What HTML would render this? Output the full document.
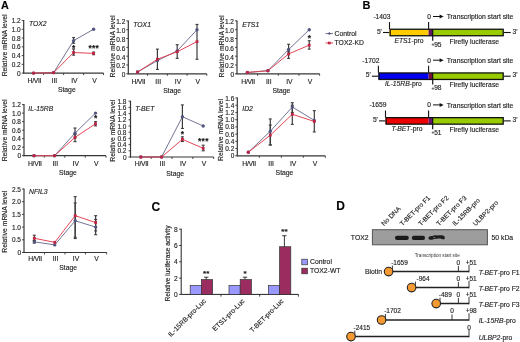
<!DOCTYPE html>
<html><head><meta charset="utf-8"><style>
html,body{margin:0;padding:0;background:#fff;font-family:"Liberation Sans", sans-serif;width:520px;height:342px;overflow:hidden;}
svg{display:block;filter:blur(0.35px);}
text{stroke:#2a2a2a;stroke-width:0.15px;}
</style></head><body>
<svg width="520" height="342" viewBox="0 0 520 342" font-family="Liberation Sans">
<rect width="520" height="342" fill="#fff"/>
<line x1="23.70" y1="20.00" x2="23.70" y2="73.60" stroke="#363636" stroke-width="1.2" />
<line x1="23.20" y1="73.10" x2="103.50" y2="73.10" stroke="#363636" stroke-width="1.2" />
<line x1="21.70" y1="73.10" x2="23.70" y2="73.10" stroke="#363636" stroke-width="0.9" />
<text x="20.70" y="75.60" font-size="6.5" text-anchor="end" fill="#222" >0</text>
<line x1="21.70" y1="64.33" x2="23.70" y2="64.33" stroke="#363636" stroke-width="0.9" />
<text x="20.70" y="66.83" font-size="6.5" text-anchor="end" fill="#222" >0.2</text>
<line x1="21.70" y1="55.57" x2="23.70" y2="55.57" stroke="#363636" stroke-width="0.9" />
<text x="20.70" y="58.07" font-size="6.5" text-anchor="end" fill="#222" >0.4</text>
<line x1="21.70" y1="46.80" x2="23.70" y2="46.80" stroke="#363636" stroke-width="0.9" />
<text x="20.70" y="49.30" font-size="6.5" text-anchor="end" fill="#222" >0.6</text>
<line x1="21.70" y1="38.03" x2="23.70" y2="38.03" stroke="#363636" stroke-width="0.9" />
<text x="20.70" y="40.53" font-size="6.5" text-anchor="end" fill="#222" >0.8</text>
<line x1="21.70" y1="29.27" x2="23.70" y2="29.27" stroke="#363636" stroke-width="0.9" />
<text x="20.70" y="31.77" font-size="6.5" text-anchor="end" fill="#222" >1.0</text>
<line x1="21.70" y1="20.50" x2="23.70" y2="20.50" stroke="#363636" stroke-width="0.9" />
<text x="20.70" y="23.00" font-size="6.5" text-anchor="end" fill="#222" >1.2</text>
<line x1="43.60" y1="73.10" x2="43.60" y2="75.10" stroke="#363636" stroke-width="0.9" />
<line x1="63.60" y1="73.10" x2="63.60" y2="75.10" stroke="#363636" stroke-width="0.9" />
<line x1="83.60" y1="73.10" x2="83.60" y2="75.10" stroke="#363636" stroke-width="0.9" />
<line x1="103.50" y1="73.10" x2="103.50" y2="75.10" stroke="#363636" stroke-width="0.9" />
<text x="34.40" y="83.20" font-size="6.8" text-anchor="middle" fill="#222" letter-spacing="-0.3">H/VII</text>
<text x="54.40" y="83.20" font-size="6.8" text-anchor="middle" fill="#222" >III</text>
<text x="74.40" y="83.20" font-size="6.8" text-anchor="middle" fill="#222" >IV</text>
<text x="94.40" y="83.20" font-size="6.8" text-anchor="middle" fill="#222" >V</text>
<text x="66.80" y="92.00" font-size="6.8" text-anchor="middle" fill="#222" >Stage</text>
<text x="0" y="0" font-size="6.8" text-anchor="middle" fill="#222" transform="translate(7.00,45.40) rotate(-90)">Relative mRNA level</text>
<text x="29.00" y="26.00" font-size="6.8" text-anchor="start" fill="#222" font-style="italic" >TOX2</text>
<polyline points="33.60,73.10 53.60,72.66 73.60,40.66 93.60,29.27" fill="none" stroke="#6c6e8e" stroke-width="0.95"/>
<polyline points="33.60,73.10 53.60,72.66 73.60,52.50 93.60,53.38" fill="none" stroke="#e23c4c" stroke-width="0.95"/>
<line x1="73.60" y1="43.29" x2="73.60" y2="37.59" stroke="#3c3c3c" stroke-width="1.2" />
<line x1="72.10" y1="43.29" x2="75.10" y2="43.29" stroke="#3c3c3c" stroke-width="1.1" />
<line x1="72.10" y1="37.59" x2="75.10" y2="37.59" stroke="#3c3c3c" stroke-width="1.1" />
<line x1="73.60" y1="55.13" x2="73.60" y2="48.99" stroke="#3c3c3c" stroke-width="1.2" />
<line x1="72.10" y1="55.13" x2="75.10" y2="55.13" stroke="#3c3c3c" stroke-width="1.1" />
<line x1="72.10" y1="48.99" x2="75.10" y2="48.99" stroke="#3c3c3c" stroke-width="1.1" />
<line x1="93.60" y1="54.69" x2="93.60" y2="52.06" stroke="#3c3c3c" stroke-width="1.2" />
<line x1="92.10" y1="54.69" x2="95.10" y2="54.69" stroke="#3c3c3c" stroke-width="1.1" />
<line x1="92.10" y1="52.06" x2="95.10" y2="52.06" stroke="#3c3c3c" stroke-width="1.1" />
<circle cx="33.60" cy="73.10" r="1.7" fill="#52557e"/>
<circle cx="53.60" cy="72.66" r="1.7" fill="#52557e"/>
<circle cx="73.60" cy="40.66" r="1.7" fill="#52557e"/>
<circle cx="93.60" cy="29.27" r="1.7" fill="#52557e"/>
<rect x="32.20" y="71.70" width="2.80" height="2.80" fill="#c02444" stroke="none" stroke-width="0" />
<rect x="52.20" y="71.26" width="2.80" height="2.80" fill="#c02444" stroke="none" stroke-width="0" />
<rect x="72.20" y="51.10" width="2.80" height="2.80" fill="#c02444" stroke="none" stroke-width="0" />
<rect x="92.20" y="51.98" width="2.80" height="2.80" fill="#c02444" stroke="none" stroke-width="0" />
<text x="73.80" y="51.38" font-size="8.4" text-anchor="middle" fill="#111" font-weight="bold" letter-spacing="0.3">*</text>
<text x="93.80" y="51.38" font-size="8.4" text-anchor="middle" fill="#111" font-weight="bold" letter-spacing="0.3">***</text>
<line x1="128.30" y1="20.40" x2="128.30" y2="74.30" stroke="#363636" stroke-width="1.2" />
<line x1="127.80" y1="73.80" x2="206.80" y2="73.80" stroke="#363636" stroke-width="1.2" />
<line x1="126.30" y1="73.80" x2="128.30" y2="73.80" stroke="#363636" stroke-width="0.9" />
<text x="125.30" y="77.20" font-size="6.5" text-anchor="end" fill="#222" >0</text>
<line x1="126.30" y1="64.98" x2="128.30" y2="64.98" stroke="#363636" stroke-width="0.9" />
<text x="125.30" y="68.38" font-size="6.5" text-anchor="end" fill="#222" >0.2</text>
<line x1="126.30" y1="56.17" x2="128.30" y2="56.17" stroke="#363636" stroke-width="0.9" />
<text x="125.30" y="59.57" font-size="6.5" text-anchor="end" fill="#222" >0.4</text>
<line x1="126.30" y1="47.35" x2="128.30" y2="47.35" stroke="#363636" stroke-width="0.9" />
<text x="125.30" y="50.75" font-size="6.5" text-anchor="end" fill="#222" >0.6</text>
<line x1="126.30" y1="38.53" x2="128.30" y2="38.53" stroke="#363636" stroke-width="0.9" />
<text x="125.30" y="41.93" font-size="6.5" text-anchor="end" fill="#222" >0.8</text>
<line x1="126.30" y1="29.72" x2="128.30" y2="29.72" stroke="#363636" stroke-width="0.9" />
<text x="125.30" y="33.12" font-size="6.5" text-anchor="end" fill="#222" >1.0</text>
<line x1="126.30" y1="20.90" x2="128.30" y2="20.90" stroke="#363636" stroke-width="0.9" />
<text x="125.30" y="24.30" font-size="6.5" text-anchor="end" fill="#222" >1.2</text>
<line x1="147.50" y1="73.80" x2="147.50" y2="75.80" stroke="#363636" stroke-width="0.9" />
<line x1="167.30" y1="73.80" x2="167.30" y2="75.80" stroke="#363636" stroke-width="0.9" />
<line x1="187.10" y1="73.80" x2="187.10" y2="75.80" stroke="#363636" stroke-width="0.9" />
<line x1="206.80" y1="73.80" x2="206.80" y2="75.80" stroke="#363636" stroke-width="0.9" />
<text x="138.40" y="83.60" font-size="6.8" text-anchor="middle" fill="#222" letter-spacing="-0.3">H/VII</text>
<text x="158.20" y="83.60" font-size="6.8" text-anchor="middle" fill="#222" >III</text>
<text x="178.00" y="83.60" font-size="6.8" text-anchor="middle" fill="#222" >IV</text>
<text x="197.80" y="83.60" font-size="6.8" text-anchor="middle" fill="#222" >V</text>
<text x="172.20" y="93.20" font-size="6.8" text-anchor="middle" fill="#222" >Stage</text>
<text x="0" y="0" font-size="6.8" text-anchor="middle" fill="#222" transform="translate(114.80,46.50) rotate(-90)">Relative mRNA level</text>
<text x="133.30" y="27.20" font-size="6.8" text-anchor="start" fill="#222" font-style="italic" >TOX1</text>
<polyline points="137.60,72.04 157.40,60.57 177.20,50.88 197.00,29.72" fill="none" stroke="#6c6e8e" stroke-width="0.95"/>
<polyline points="137.60,72.04 157.40,59.25 177.20,51.76 197.00,41.62" fill="none" stroke="#e23c4c" stroke-width="0.95"/>
<line x1="157.40" y1="69.39" x2="157.40" y2="49.11" stroke="#3c3c3c" stroke-width="1.2" />
<line x1="155.90" y1="69.39" x2="158.90" y2="69.39" stroke="#3c3c3c" stroke-width="1.1" />
<line x1="155.90" y1="49.11" x2="158.90" y2="49.11" stroke="#3c3c3c" stroke-width="1.1" />
<line x1="177.20" y1="58.37" x2="177.20" y2="44.70" stroke="#3c3c3c" stroke-width="1.2" />
<line x1="175.70" y1="58.37" x2="178.70" y2="58.37" stroke="#3c3c3c" stroke-width="1.1" />
<line x1="175.70" y1="44.70" x2="178.70" y2="44.70" stroke="#3c3c3c" stroke-width="1.1" />
<line x1="197.00" y1="59.25" x2="197.00" y2="24.43" stroke="#3c3c3c" stroke-width="1.2" />
<line x1="195.50" y1="59.25" x2="198.50" y2="59.25" stroke="#3c3c3c" stroke-width="1.1" />
<line x1="195.50" y1="24.43" x2="198.50" y2="24.43" stroke="#3c3c3c" stroke-width="1.1" />
<circle cx="137.60" cy="72.04" r="1.7" fill="#52557e"/>
<circle cx="157.40" cy="60.57" r="1.7" fill="#52557e"/>
<circle cx="177.20" cy="50.88" r="1.7" fill="#52557e"/>
<circle cx="197.00" cy="29.72" r="1.7" fill="#52557e"/>
<rect x="136.20" y="70.64" width="2.80" height="2.80" fill="#c02444" stroke="none" stroke-width="0" />
<rect x="156.00" y="57.85" width="2.80" height="2.80" fill="#c02444" stroke="none" stroke-width="0" />
<rect x="175.80" y="50.36" width="2.80" height="2.80" fill="#c02444" stroke="none" stroke-width="0" />
<rect x="195.60" y="40.22" width="2.80" height="2.80" fill="#c02444" stroke="none" stroke-width="0" />
<line x1="237.00" y1="20.40" x2="237.00" y2="74.30" stroke="#363636" stroke-width="1.2" />
<line x1="236.50" y1="73.80" x2="319.60" y2="73.80" stroke="#363636" stroke-width="1.2" />
<line x1="235.00" y1="73.80" x2="237.00" y2="73.80" stroke="#363636" stroke-width="0.9" />
<text x="234.00" y="77.20" font-size="6.5" text-anchor="end" fill="#222" >0</text>
<line x1="235.00" y1="64.98" x2="237.00" y2="64.98" stroke="#363636" stroke-width="0.9" />
<text x="234.00" y="68.38" font-size="6.5" text-anchor="end" fill="#222" >0.2</text>
<line x1="235.00" y1="56.17" x2="237.00" y2="56.17" stroke="#363636" stroke-width="0.9" />
<text x="234.00" y="59.57" font-size="6.5" text-anchor="end" fill="#222" >0.4</text>
<line x1="235.00" y1="47.35" x2="237.00" y2="47.35" stroke="#363636" stroke-width="0.9" />
<text x="234.00" y="50.75" font-size="6.5" text-anchor="end" fill="#222" >0.6</text>
<line x1="235.00" y1="38.53" x2="237.00" y2="38.53" stroke="#363636" stroke-width="0.9" />
<text x="234.00" y="41.93" font-size="6.5" text-anchor="end" fill="#222" >0.8</text>
<line x1="235.00" y1="29.72" x2="237.00" y2="29.72" stroke="#363636" stroke-width="0.9" />
<text x="234.00" y="33.12" font-size="6.5" text-anchor="end" fill="#222" >1.0</text>
<line x1="235.00" y1="20.90" x2="237.00" y2="20.90" stroke="#363636" stroke-width="0.9" />
<text x="234.00" y="24.30" font-size="6.5" text-anchor="end" fill="#222" >1.2</text>
<line x1="257.62" y1="73.80" x2="257.62" y2="75.80" stroke="#363636" stroke-width="0.9" />
<line x1="278.28" y1="73.80" x2="278.28" y2="75.80" stroke="#363636" stroke-width="0.9" />
<line x1="298.93" y1="73.80" x2="298.93" y2="75.80" stroke="#363636" stroke-width="0.9" />
<line x1="319.60" y1="73.80" x2="319.60" y2="75.80" stroke="#363636" stroke-width="0.9" />
<text x="248.10" y="83.60" font-size="6.8" text-anchor="middle" fill="#222" letter-spacing="-0.3">H/VII</text>
<text x="268.75" y="83.60" font-size="6.8" text-anchor="middle" fill="#222" >III</text>
<text x="289.40" y="83.60" font-size="6.8" text-anchor="middle" fill="#222" >IV</text>
<text x="310.05" y="83.60" font-size="6.8" text-anchor="middle" fill="#222" >V</text>
<text x="281.47" y="93.20" font-size="6.8" text-anchor="middle" fill="#222" >Stage</text>
<text x="0" y="0" font-size="6.8" text-anchor="middle" fill="#222" transform="translate(223.90,46.50) rotate(-90)">Relative mRNA level</text>
<text x="242.20" y="27.40" font-size="6.8" text-anchor="start" fill="#222" font-style="italic" >ETS1</text>
<polyline points="247.30,72.48 267.95,70.71 288.60,49.55 309.25,29.72" fill="none" stroke="#6c6e8e" stroke-width="0.95"/>
<polyline points="247.30,72.48 267.95,70.71 288.60,53.96 309.25,45.15" fill="none" stroke="#e23c4c" stroke-width="0.95"/>
<line x1="288.60" y1="54.40" x2="288.60" y2="44.26" stroke="#3c3c3c" stroke-width="1.2" />
<line x1="287.10" y1="54.40" x2="290.10" y2="54.40" stroke="#3c3c3c" stroke-width="1.1" />
<line x1="287.10" y1="44.26" x2="290.10" y2="44.26" stroke="#3c3c3c" stroke-width="1.1" />
<line x1="288.60" y1="58.37" x2="288.60" y2="51.76" stroke="#3c3c3c" stroke-width="1.2" />
<line x1="287.10" y1="58.37" x2="290.10" y2="58.37" stroke="#3c3c3c" stroke-width="1.1" />
<line x1="287.10" y1="51.76" x2="290.10" y2="51.76" stroke="#3c3c3c" stroke-width="1.1" />
<line x1="309.25" y1="49.11" x2="309.25" y2="40.74" stroke="#3c3c3c" stroke-width="1.2" />
<line x1="307.75" y1="49.11" x2="310.75" y2="49.11" stroke="#3c3c3c" stroke-width="1.1" />
<line x1="307.75" y1="40.74" x2="310.75" y2="40.74" stroke="#3c3c3c" stroke-width="1.1" />
<circle cx="247.30" cy="72.48" r="1.7" fill="#52557e"/>
<circle cx="267.95" cy="70.71" r="1.7" fill="#52557e"/>
<circle cx="288.60" cy="49.55" r="1.7" fill="#52557e"/>
<circle cx="309.25" cy="29.72" r="1.7" fill="#52557e"/>
<rect x="245.90" y="71.08" width="2.80" height="2.80" fill="#c02444" stroke="none" stroke-width="0" />
<rect x="266.55" y="69.31" width="2.80" height="2.80" fill="#c02444" stroke="none" stroke-width="0" />
<rect x="287.20" y="52.56" width="2.80" height="2.80" fill="#c02444" stroke="none" stroke-width="0" />
<rect x="307.85" y="43.75" width="2.80" height="2.80" fill="#c02444" stroke="none" stroke-width="0" />
<text x="309.45" y="40.91" font-size="8.4" text-anchor="middle" fill="#111" font-weight="bold" letter-spacing="0.3">*</text>
<line x1="24.00" y1="104.10" x2="24.00" y2="156.20" stroke="#363636" stroke-width="1.2" />
<line x1="23.50" y1="155.70" x2="106.00" y2="155.70" stroke="#363636" stroke-width="1.2" />
<line x1="22.00" y1="155.70" x2="24.00" y2="155.70" stroke="#363636" stroke-width="0.9" />
<text x="21.00" y="158.20" font-size="6.5" text-anchor="end" fill="#222" >0</text>
<line x1="22.00" y1="147.18" x2="24.00" y2="147.18" stroke="#363636" stroke-width="0.9" />
<text x="21.00" y="149.68" font-size="6.5" text-anchor="end" fill="#222" >0.2</text>
<line x1="22.00" y1="138.67" x2="24.00" y2="138.67" stroke="#363636" stroke-width="0.9" />
<text x="21.00" y="141.17" font-size="6.5" text-anchor="end" fill="#222" >0.4</text>
<line x1="22.00" y1="130.15" x2="24.00" y2="130.15" stroke="#363636" stroke-width="0.9" />
<text x="21.00" y="132.65" font-size="6.5" text-anchor="end" fill="#222" >0.6</text>
<line x1="22.00" y1="121.63" x2="24.00" y2="121.63" stroke="#363636" stroke-width="0.9" />
<text x="21.00" y="124.13" font-size="6.5" text-anchor="end" fill="#222" >0.8</text>
<line x1="22.00" y1="113.12" x2="24.00" y2="113.12" stroke="#363636" stroke-width="0.9" />
<text x="21.00" y="115.62" font-size="6.5" text-anchor="end" fill="#222" >1.0</text>
<line x1="22.00" y1="104.60" x2="24.00" y2="104.60" stroke="#363636" stroke-width="0.9" />
<text x="21.00" y="107.10" font-size="6.5" text-anchor="end" fill="#222" >1.2</text>
<line x1="44.25" y1="155.70" x2="44.25" y2="157.70" stroke="#363636" stroke-width="0.9" />
<line x1="64.75" y1="155.70" x2="64.75" y2="157.70" stroke="#363636" stroke-width="0.9" />
<line x1="85.25" y1="155.70" x2="85.25" y2="157.70" stroke="#363636" stroke-width="0.9" />
<line x1="106.00" y1="155.70" x2="106.00" y2="157.70" stroke="#363636" stroke-width="0.9" />
<text x="34.80" y="166.20" font-size="6.8" text-anchor="middle" fill="#222" letter-spacing="-0.3">H/VII</text>
<text x="55.30" y="166.20" font-size="6.8" text-anchor="middle" fill="#222" >III</text>
<text x="75.80" y="166.20" font-size="6.8" text-anchor="middle" fill="#222" >IV</text>
<text x="96.30" y="166.20" font-size="6.8" text-anchor="middle" fill="#222" >V</text>
<text x="67.95" y="175.00" font-size="6.8" text-anchor="middle" fill="#222" >Stage</text>
<text x="0" y="0" font-size="6.8" text-anchor="middle" fill="#222" transform="translate(7.00,130.40) rotate(-90)">Relative mRNA level</text>
<text x="28.30" y="110.60" font-size="6.8" text-anchor="start" fill="#222" font-style="italic" >IL-15RB</text>
<polyline points="34.00,155.70 54.50,155.70 75.00,133.13 95.50,113.12" fill="none" stroke="#6c6e8e" stroke-width="0.95"/>
<polyline points="34.00,155.70 54.50,155.70 75.00,137.39 95.50,123.76" fill="none" stroke="#e23c4c" stroke-width="0.95"/>
<line x1="75.00" y1="137.81" x2="75.00" y2="128.02" stroke="#3c3c3c" stroke-width="1.2" />
<line x1="73.50" y1="137.81" x2="76.50" y2="137.81" stroke="#3c3c3c" stroke-width="1.1" />
<line x1="73.50" y1="128.02" x2="76.50" y2="128.02" stroke="#3c3c3c" stroke-width="1.1" />
<line x1="75.00" y1="141.65" x2="75.00" y2="134.41" stroke="#3c3c3c" stroke-width="1.2" />
<line x1="73.50" y1="141.65" x2="76.50" y2="141.65" stroke="#3c3c3c" stroke-width="1.1" />
<line x1="73.50" y1="134.41" x2="76.50" y2="134.41" stroke="#3c3c3c" stroke-width="1.1" />
<line x1="95.50" y1="125.89" x2="95.50" y2="121.63" stroke="#3c3c3c" stroke-width="1.2" />
<line x1="94.00" y1="125.89" x2="97.00" y2="125.89" stroke="#3c3c3c" stroke-width="1.1" />
<line x1="94.00" y1="121.63" x2="97.00" y2="121.63" stroke="#3c3c3c" stroke-width="1.1" />
<circle cx="34.00" cy="155.70" r="1.7" fill="#52557e"/>
<circle cx="54.50" cy="155.70" r="1.7" fill="#52557e"/>
<circle cx="75.00" cy="133.13" r="1.7" fill="#52557e"/>
<circle cx="95.50" cy="113.12" r="1.7" fill="#52557e"/>
<rect x="32.60" y="154.30" width="2.80" height="2.80" fill="#c02444" stroke="none" stroke-width="0" />
<rect x="53.10" y="154.30" width="2.80" height="2.80" fill="#c02444" stroke="none" stroke-width="0" />
<rect x="73.60" y="135.99" width="2.80" height="2.80" fill="#c02444" stroke="none" stroke-width="0" />
<rect x="94.10" y="122.36" width="2.80" height="2.80" fill="#c02444" stroke="none" stroke-width="0" />
<text x="95.70" y="121.08" font-size="8.4" text-anchor="middle" fill="#111" font-weight="bold" letter-spacing="0.3">*</text>
<line x1="130.50" y1="100.70" x2="130.50" y2="157.50" stroke="#363636" stroke-width="1.2" />
<line x1="130.00" y1="157.00" x2="213.70" y2="157.00" stroke="#363636" stroke-width="1.2" />
<line x1="128.50" y1="157.00" x2="130.50" y2="157.00" stroke="#363636" stroke-width="0.9" />
<text x="126.50" y="159.50" font-size="6.5" text-anchor="end" fill="#222" >0</text>
<line x1="128.50" y1="150.80" x2="130.50" y2="150.80" stroke="#363636" stroke-width="0.9" />
<text x="126.50" y="153.30" font-size="6.5" text-anchor="end" fill="#222" >0.2</text>
<line x1="128.50" y1="144.60" x2="130.50" y2="144.60" stroke="#363636" stroke-width="0.9" />
<text x="126.50" y="147.10" font-size="6.5" text-anchor="end" fill="#222" >0.4</text>
<line x1="128.50" y1="138.40" x2="130.50" y2="138.40" stroke="#363636" stroke-width="0.9" />
<text x="126.50" y="140.90" font-size="6.5" text-anchor="end" fill="#222" >0.6</text>
<line x1="128.50" y1="132.20" x2="130.50" y2="132.20" stroke="#363636" stroke-width="0.9" />
<text x="126.50" y="134.70" font-size="6.5" text-anchor="end" fill="#222" >0.8</text>
<line x1="128.50" y1="126.00" x2="130.50" y2="126.00" stroke="#363636" stroke-width="0.9" />
<text x="126.50" y="128.50" font-size="6.5" text-anchor="end" fill="#222" >1.0</text>
<line x1="128.50" y1="119.80" x2="130.50" y2="119.80" stroke="#363636" stroke-width="0.9" />
<text x="126.50" y="122.30" font-size="6.5" text-anchor="end" fill="#222" >1.2</text>
<line x1="128.50" y1="113.60" x2="130.50" y2="113.60" stroke="#363636" stroke-width="0.9" />
<text x="126.50" y="116.10" font-size="6.5" text-anchor="end" fill="#222" >1.4</text>
<line x1="128.50" y1="107.40" x2="130.50" y2="107.40" stroke="#363636" stroke-width="0.9" />
<text x="126.50" y="109.90" font-size="6.5" text-anchor="end" fill="#222" >1.6</text>
<line x1="128.50" y1="101.20" x2="130.50" y2="101.20" stroke="#363636" stroke-width="0.9" />
<text x="126.50" y="103.70" font-size="6.5" text-anchor="end" fill="#222" >1.8</text>
<line x1="151.20" y1="157.00" x2="151.20" y2="159.00" stroke="#363636" stroke-width="0.9" />
<line x1="172.00" y1="157.00" x2="172.00" y2="159.00" stroke="#363636" stroke-width="0.9" />
<line x1="192.80" y1="157.00" x2="192.80" y2="159.00" stroke="#363636" stroke-width="0.9" />
<line x1="213.70" y1="157.00" x2="213.70" y2="159.00" stroke="#363636" stroke-width="0.9" />
<text x="141.60" y="166.40" font-size="6.8" text-anchor="middle" fill="#222" letter-spacing="-0.3">H/VII</text>
<text x="162.40" y="166.40" font-size="6.8" text-anchor="middle" fill="#222" >III</text>
<text x="183.20" y="166.40" font-size="6.8" text-anchor="middle" fill="#222" >IV</text>
<text x="204.00" y="166.40" font-size="6.8" text-anchor="middle" fill="#222" >V</text>
<text x="175.20" y="175.60" font-size="6.8" text-anchor="middle" fill="#222" >Stage</text>
<text x="0" y="0" font-size="6.8" text-anchor="middle" fill="#222" transform="translate(115.30,130.80) rotate(-90)">Relative mRNA level</text>
<text x="135.30" y="111.30" font-size="6.8" text-anchor="start" fill="#222" font-style="italic" >T-BET</text>
<polyline points="140.80,157.00 161.60,157.00 182.40,116.70 203.20,126.00" fill="none" stroke="#6c6e8e" stroke-width="0.95"/>
<polyline points="140.80,157.00 161.60,157.00 182.40,139.33 203.20,148.32" fill="none" stroke="#e23c4c" stroke-width="0.95"/>
<line x1="182.40" y1="128.48" x2="182.40" y2="104.92" stroke="#3c3c3c" stroke-width="1.2" />
<line x1="180.90" y1="128.48" x2="183.90" y2="128.48" stroke="#3c3c3c" stroke-width="1.1" />
<line x1="180.90" y1="104.92" x2="183.90" y2="104.92" stroke="#3c3c3c" stroke-width="1.1" />
<line x1="182.40" y1="141.50" x2="182.40" y2="136.85" stroke="#3c3c3c" stroke-width="1.2" />
<line x1="180.90" y1="141.50" x2="183.90" y2="141.50" stroke="#3c3c3c" stroke-width="1.1" />
<line x1="180.90" y1="136.85" x2="183.90" y2="136.85" stroke="#3c3c3c" stroke-width="1.1" />
<line x1="203.20" y1="150.80" x2="203.20" y2="145.22" stroke="#3c3c3c" stroke-width="1.2" />
<line x1="201.70" y1="150.80" x2="204.70" y2="150.80" stroke="#3c3c3c" stroke-width="1.1" />
<line x1="201.70" y1="145.22" x2="204.70" y2="145.22" stroke="#3c3c3c" stroke-width="1.1" />
<circle cx="140.80" cy="157.00" r="1.7" fill="#52557e"/>
<circle cx="161.60" cy="157.00" r="1.7" fill="#52557e"/>
<circle cx="182.40" cy="116.70" r="1.7" fill="#52557e"/>
<circle cx="203.20" cy="126.00" r="1.7" fill="#52557e"/>
<rect x="139.40" y="155.60" width="2.80" height="2.80" fill="#c02444" stroke="none" stroke-width="0" />
<rect x="160.20" y="155.60" width="2.80" height="2.80" fill="#c02444" stroke="none" stroke-width="0" />
<rect x="181.00" y="137.93" width="2.80" height="2.80" fill="#c02444" stroke="none" stroke-width="0" />
<rect x="201.80" y="146.92" width="2.80" height="2.80" fill="#c02444" stroke="none" stroke-width="0" />
<text x="182.60" y="136.52" font-size="8.4" text-anchor="middle" fill="#111" font-weight="bold" letter-spacing="0.3">*</text>
<text x="203.40" y="143.65" font-size="8.4" text-anchor="middle" fill="#111" font-weight="bold" letter-spacing="0.3">***</text>
<line x1="237.30" y1="97.50" x2="237.30" y2="156.30" stroke="#363636" stroke-width="1.2" />
<line x1="236.80" y1="155.80" x2="325.30" y2="155.80" stroke="#363636" stroke-width="1.2" />
<line x1="235.30" y1="155.80" x2="237.30" y2="155.80" stroke="#363636" stroke-width="0.9" />
<text x="234.30" y="158.30" font-size="6.5" text-anchor="end" fill="#222" >0</text>
<line x1="235.30" y1="148.58" x2="237.30" y2="148.58" stroke="#363636" stroke-width="0.9" />
<text x="234.30" y="151.08" font-size="6.5" text-anchor="end" fill="#222" >0.2</text>
<line x1="235.30" y1="141.35" x2="237.30" y2="141.35" stroke="#363636" stroke-width="0.9" />
<text x="234.30" y="143.85" font-size="6.5" text-anchor="end" fill="#222" >0.4</text>
<line x1="235.30" y1="134.12" x2="237.30" y2="134.12" stroke="#363636" stroke-width="0.9" />
<text x="234.30" y="136.62" font-size="6.5" text-anchor="end" fill="#222" >0.6</text>
<line x1="235.30" y1="126.90" x2="237.30" y2="126.90" stroke="#363636" stroke-width="0.9" />
<text x="234.30" y="129.40" font-size="6.5" text-anchor="end" fill="#222" >0.8</text>
<line x1="235.30" y1="119.68" x2="237.30" y2="119.68" stroke="#363636" stroke-width="0.9" />
<text x="234.30" y="122.18" font-size="6.5" text-anchor="end" fill="#222" >1.0</text>
<line x1="235.30" y1="112.45" x2="237.30" y2="112.45" stroke="#363636" stroke-width="0.9" />
<text x="234.30" y="114.95" font-size="6.5" text-anchor="end" fill="#222" >1.2</text>
<line x1="235.30" y1="105.22" x2="237.30" y2="105.22" stroke="#363636" stroke-width="0.9" />
<text x="234.30" y="107.72" font-size="6.5" text-anchor="end" fill="#222" >1.4</text>
<line x1="235.30" y1="98.00" x2="237.30" y2="98.00" stroke="#363636" stroke-width="0.9" />
<text x="234.30" y="100.50" font-size="6.5" text-anchor="end" fill="#222" >1.6</text>
<line x1="259.30" y1="155.80" x2="259.30" y2="157.80" stroke="#363636" stroke-width="0.9" />
<line x1="281.30" y1="155.80" x2="281.30" y2="157.80" stroke="#363636" stroke-width="0.9" />
<line x1="303.30" y1="155.80" x2="303.30" y2="157.80" stroke="#363636" stroke-width="0.9" />
<line x1="325.30" y1="155.80" x2="325.30" y2="157.80" stroke="#363636" stroke-width="0.9" />
<text x="249.10" y="165.80" font-size="6.8" text-anchor="middle" fill="#222" letter-spacing="-0.3">H/VII</text>
<text x="271.10" y="165.80" font-size="6.8" text-anchor="middle" fill="#222" >III</text>
<text x="293.10" y="165.80" font-size="6.8" text-anchor="middle" fill="#222" >IV</text>
<text x="315.10" y="165.80" font-size="6.8" text-anchor="middle" fill="#222" >V</text>
<text x="284.50" y="175.00" font-size="6.8" text-anchor="middle" fill="#222" >Stage</text>
<text x="0" y="0" font-size="6.8" text-anchor="middle" fill="#222" transform="translate(222.90,130.00) rotate(-90)">Relative mRNA level</text>
<text x="242.30" y="110.60" font-size="6.8" text-anchor="start" fill="#222" font-style="italic" >ID2</text>
<polyline points="248.30,152.19 270.30,131.24 292.30,107.03 314.30,120.40" fill="none" stroke="#6c6e8e" stroke-width="0.95"/>
<polyline points="248.30,152.19 270.30,135.21 292.30,114.26 314.30,121.48" fill="none" stroke="#e23c4c" stroke-width="0.95"/>
<line x1="270.30" y1="144.96" x2="270.30" y2="118.95" stroke="#3c3c3c" stroke-width="1.2" />
<line x1="268.80" y1="144.96" x2="271.80" y2="144.96" stroke="#3c3c3c" stroke-width="1.1" />
<line x1="268.80" y1="118.95" x2="271.80" y2="118.95" stroke="#3c3c3c" stroke-width="1.1" />
<line x1="292.30" y1="112.45" x2="292.30" y2="102.70" stroke="#3c3c3c" stroke-width="1.2" />
<line x1="290.80" y1="112.45" x2="293.80" y2="112.45" stroke="#3c3c3c" stroke-width="1.1" />
<line x1="290.80" y1="102.70" x2="293.80" y2="102.70" stroke="#3c3c3c" stroke-width="1.1" />
<line x1="314.30" y1="131.96" x2="314.30" y2="110.64" stroke="#3c3c3c" stroke-width="1.2" />
<line x1="312.80" y1="131.96" x2="315.80" y2="131.96" stroke="#3c3c3c" stroke-width="1.1" />
<line x1="312.80" y1="110.64" x2="315.80" y2="110.64" stroke="#3c3c3c" stroke-width="1.1" />
<line x1="270.30" y1="144.96" x2="270.30" y2="125.09" stroke="#3c3c3c" stroke-width="1.2" />
<line x1="268.80" y1="144.96" x2="271.80" y2="144.96" stroke="#3c3c3c" stroke-width="1.1" />
<line x1="268.80" y1="125.09" x2="271.80" y2="125.09" stroke="#3c3c3c" stroke-width="1.1" />
<line x1="292.30" y1="124.37" x2="292.30" y2="105.22" stroke="#3c3c3c" stroke-width="1.2" />
<line x1="290.80" y1="124.37" x2="293.80" y2="124.37" stroke="#3c3c3c" stroke-width="1.1" />
<line x1="290.80" y1="105.22" x2="293.80" y2="105.22" stroke="#3c3c3c" stroke-width="1.1" />
<circle cx="248.30" cy="152.19" r="1.7" fill="#52557e"/>
<circle cx="270.30" cy="131.24" r="1.7" fill="#52557e"/>
<circle cx="292.30" cy="107.03" r="1.7" fill="#52557e"/>
<circle cx="314.30" cy="120.40" r="1.7" fill="#52557e"/>
<rect x="246.90" y="150.79" width="2.80" height="2.80" fill="#c02444" stroke="none" stroke-width="0" />
<rect x="268.90" y="133.81" width="2.80" height="2.80" fill="#c02444" stroke="none" stroke-width="0" />
<rect x="290.90" y="112.86" width="2.80" height="2.80" fill="#c02444" stroke="none" stroke-width="0" />
<rect x="312.90" y="120.08" width="2.80" height="2.80" fill="#c02444" stroke="none" stroke-width="0" />
<line x1="24.00" y1="188.50" x2="24.00" y2="253.00" stroke="#363636" stroke-width="1.2" />
<line x1="23.50" y1="252.50" x2="106.70" y2="252.50" stroke="#363636" stroke-width="1.2" />
<line x1="22.00" y1="252.50" x2="24.00" y2="252.50" stroke="#363636" stroke-width="0.9" />
<text x="21.00" y="255.00" font-size="6.5" text-anchor="end" fill="#222" >0</text>
<line x1="22.00" y1="239.80" x2="24.00" y2="239.80" stroke="#363636" stroke-width="0.9" />
<text x="21.00" y="242.30" font-size="6.5" text-anchor="end" fill="#222" >0.5</text>
<line x1="22.00" y1="227.10" x2="24.00" y2="227.10" stroke="#363636" stroke-width="0.9" />
<text x="21.00" y="229.60" font-size="6.5" text-anchor="end" fill="#222" >1.0</text>
<line x1="22.00" y1="214.40" x2="24.00" y2="214.40" stroke="#363636" stroke-width="0.9" />
<text x="21.00" y="216.90" font-size="6.5" text-anchor="end" fill="#222" >1.5</text>
<line x1="22.00" y1="201.70" x2="24.00" y2="201.70" stroke="#363636" stroke-width="0.9" />
<text x="21.00" y="204.20" font-size="6.5" text-anchor="end" fill="#222" >2.0</text>
<line x1="22.00" y1="189.00" x2="24.00" y2="189.00" stroke="#363636" stroke-width="0.9" />
<text x="21.00" y="191.50" font-size="6.5" text-anchor="end" fill="#222" >2.5</text>
<line x1="44.52" y1="252.50" x2="44.52" y2="254.50" stroke="#363636" stroke-width="0.9" />
<line x1="64.97" y1="252.50" x2="64.97" y2="254.50" stroke="#363636" stroke-width="0.9" />
<line x1="85.42" y1="252.50" x2="85.42" y2="254.50" stroke="#363636" stroke-width="0.9" />
<line x1="106.70" y1="252.50" x2="106.70" y2="254.50" stroke="#363636" stroke-width="0.9" />
<text x="35.10" y="261.00" font-size="6.8" text-anchor="middle" fill="#222" letter-spacing="-0.3">H/VII</text>
<text x="55.55" y="261.00" font-size="6.8" text-anchor="middle" fill="#222" >III</text>
<text x="76.00" y="261.00" font-size="6.8" text-anchor="middle" fill="#222" >IV</text>
<text x="96.45" y="261.00" font-size="6.8" text-anchor="middle" fill="#222" >V</text>
<text x="68.17" y="270.20" font-size="6.8" text-anchor="middle" fill="#222" >Stage</text>
<text x="0" y="0" font-size="6.8" text-anchor="middle" fill="#222" transform="translate(6.90,221.70) rotate(-90)">Relative mRNA level</text>
<text x="29.00" y="194.00" font-size="6.8" text-anchor="start" fill="#222" font-style="italic" >NFIL3</text>
<polyline points="34.30,241.83 54.75,244.88 75.20,220.75 95.65,227.10" fill="none" stroke="#6c6e8e" stroke-width="0.95"/>
<polyline points="34.30,238.28 54.75,242.34 75.20,215.67 95.65,222.53" fill="none" stroke="#e23c4c" stroke-width="0.95"/>
<line x1="34.30" y1="243.10" x2="34.30" y2="240.56" stroke="#3c3c3c" stroke-width="1.2" />
<line x1="32.80" y1="243.10" x2="35.80" y2="243.10" stroke="#3c3c3c" stroke-width="1.1" />
<line x1="32.80" y1="240.56" x2="35.80" y2="240.56" stroke="#3c3c3c" stroke-width="1.1" />
<line x1="75.20" y1="237.26" x2="75.20" y2="202.97" stroke="#3c3c3c" stroke-width="1.2" />
<line x1="73.70" y1="237.26" x2="76.70" y2="237.26" stroke="#3c3c3c" stroke-width="1.1" />
<line x1="73.70" y1="202.97" x2="76.70" y2="202.97" stroke="#3c3c3c" stroke-width="1.1" />
<line x1="95.65" y1="234.72" x2="95.65" y2="219.48" stroke="#3c3c3c" stroke-width="1.2" />
<line x1="94.15" y1="234.72" x2="97.15" y2="234.72" stroke="#3c3c3c" stroke-width="1.1" />
<line x1="94.15" y1="219.48" x2="97.15" y2="219.48" stroke="#3c3c3c" stroke-width="1.1" />
<line x1="34.30" y1="240.31" x2="34.30" y2="235.23" stroke="#3c3c3c" stroke-width="1.2" />
<line x1="32.80" y1="240.31" x2="35.80" y2="240.31" stroke="#3c3c3c" stroke-width="1.1" />
<line x1="32.80" y1="235.23" x2="35.80" y2="235.23" stroke="#3c3c3c" stroke-width="1.1" />
<line x1="75.20" y1="238.53" x2="75.20" y2="196.62" stroke="#3c3c3c" stroke-width="1.2" />
<line x1="73.70" y1="238.53" x2="76.70" y2="238.53" stroke="#3c3c3c" stroke-width="1.1" />
<line x1="73.70" y1="196.62" x2="76.70" y2="196.62" stroke="#3c3c3c" stroke-width="1.1" />
<line x1="95.65" y1="230.91" x2="95.65" y2="215.67" stroke="#3c3c3c" stroke-width="1.2" />
<line x1="94.15" y1="230.91" x2="97.15" y2="230.91" stroke="#3c3c3c" stroke-width="1.1" />
<line x1="94.15" y1="215.67" x2="97.15" y2="215.67" stroke="#3c3c3c" stroke-width="1.1" />
<circle cx="34.30" cy="241.83" r="1.7" fill="#52557e"/>
<circle cx="54.75" cy="244.88" r="1.7" fill="#52557e"/>
<circle cx="75.20" cy="220.75" r="1.7" fill="#52557e"/>
<circle cx="95.65" cy="227.10" r="1.7" fill="#52557e"/>
<rect x="32.90" y="236.88" width="2.80" height="2.80" fill="#c02444" stroke="none" stroke-width="0" />
<rect x="53.35" y="240.94" width="2.80" height="2.80" fill="#c02444" stroke="none" stroke-width="0" />
<rect x="73.80" y="214.27" width="2.80" height="2.80" fill="#c02444" stroke="none" stroke-width="0" />
<rect x="94.25" y="221.13" width="2.80" height="2.80" fill="#c02444" stroke="none" stroke-width="0" />
<line x1="325.60" y1="33.60" x2="333.00" y2="33.60" stroke="#6c6e8e" stroke-width="1" />
<path d="M329.3,32.1 L330.8,33.6 L329.3,35.1 L327.8,33.6 Z" fill="#52557e"/>
<text x="334.60" y="36.00" font-size="6.8" text-anchor="start" fill="#222" >Control</text>
<line x1="325.60" y1="43.00" x2="333.00" y2="43.00" stroke="#e23c4c" stroke-width="1" />
<rect x="328.00" y="41.70" width="2.60" height="2.60" fill="#c02444" stroke="none" stroke-width="0" />
<text x="334.60" y="45.40" font-size="6.8" text-anchor="start" fill="#222" >TOX2-KD</text>
<text x="1.00" y="8.90" font-size="10.8" text-anchor="start" fill="#000" font-weight="bold" >A</text>
<text x="362.40" y="8.90" font-size="11.0" text-anchor="start" fill="#000" font-weight="bold" >B</text>
<text x="151.40" y="210.90" font-size="12.0" text-anchor="start" fill="#000" font-weight="bold" >C</text>
<text x="336.30" y="210.40" font-size="12.0" text-anchor="start" fill="#000" font-weight="bold" >D</text>
<text x="390.50" y="19.00" font-size="6.7" text-anchor="end" fill="#222" >-1403</text>
<line x1="389.50" y1="22.10" x2="389.50" y2="29.10" stroke="#111" stroke-width="1.1" />
<line x1="383.00" y1="32.50" x2="389.50" y2="32.50" stroke="#111" stroke-width="1.1" />
<text x="376.90" y="33.50" font-size="6.7" text-anchor="start" fill="#222" >5'</text>
<rect x="389.50" y="29.25" width="39.10" height="6.50" fill="#ffcc00" stroke="none" stroke-width="0" />
<rect x="428.60" y="29.25" width="4.30" height="6.50" fill="#62185e" stroke="none" stroke-width="0" />
<rect x="432.90" y="29.25" width="70.30" height="6.50" fill="#99cc00" stroke="none" stroke-width="0" />
<rect x="390.15" y="29.25" width="113.05" height="6.50" fill="none" stroke="#111" stroke-width="1.3" />
<line x1="503.80" y1="32.50" x2="510.70" y2="32.50" stroke="#111" stroke-width="1.1" />
<text x="512.60" y="33.50" font-size="6.7" text-anchor="start" fill="#222" >3'</text>
<line x1="428.60" y1="22.10" x2="428.60" y2="29.10" stroke="#111" stroke-width="1.1" />
<text x="429.20" y="19.00" font-size="6.7" text-anchor="middle" fill="#222" >0</text>
<line x1="433.00" y1="16.50" x2="440.20" y2="16.50" stroke="#111" stroke-width="1.0" />
<path d="M439.6,14.50 L443.6,16.50 L439.6,18.50 Z" fill="#111"/>
<text x="446.70" y="19.30" font-size="6.8" text-anchor="start" fill="#222" >Transcription start site</text>
<line x1="432.70" y1="29.10" x2="432.70" y2="40.80" stroke="#111" stroke-width="1.2" />
<text x="431.4" y="46.00" font-size="5" fill="#222">+</text>
<text x="434.20" y="46.60" font-size="6.6" text-anchor="start" fill="#222" >95</text>
<text x="449.60" y="43.60" font-size="6.8" text-anchor="start" fill="#222" >Firefly luciferase</text>
<text x="408.95" y="42.50" font-size="6.8" text-anchor="middle" fill="#222"><tspan font-style="italic">ETS1</tspan>-pro</text>
<text x="379.40" y="62.70" font-size="6.7" text-anchor="end" fill="#222" >-1702</text>
<line x1="378.40" y1="65.80" x2="378.40" y2="72.80" stroke="#111" stroke-width="1.1" />
<line x1="371.90" y1="76.20" x2="378.40" y2="76.20" stroke="#111" stroke-width="1.1" />
<text x="365.80" y="77.20" font-size="6.7" text-anchor="start" fill="#222" >5'</text>
<rect x="378.40" y="72.95" width="50.20" height="6.50" fill="#0000ee" stroke="none" stroke-width="0" />
<rect x="428.60" y="72.95" width="4.30" height="6.50" fill="#7a1040" stroke="none" stroke-width="0" />
<rect x="432.90" y="72.95" width="70.30" height="6.50" fill="#99cc00" stroke="none" stroke-width="0" />
<rect x="379.05" y="72.95" width="124.15" height="6.50" fill="none" stroke="#111" stroke-width="1.3" />
<line x1="503.80" y1="76.20" x2="510.70" y2="76.20" stroke="#111" stroke-width="1.1" />
<text x="512.60" y="77.20" font-size="6.7" text-anchor="start" fill="#222" >3'</text>
<line x1="428.60" y1="65.80" x2="428.60" y2="72.80" stroke="#111" stroke-width="1.1" />
<text x="429.20" y="62.70" font-size="6.7" text-anchor="middle" fill="#222" >0</text>
<line x1="433.00" y1="60.20" x2="440.20" y2="60.20" stroke="#111" stroke-width="1.0" />
<path d="M439.6,58.20 L443.6,60.20 L439.6,62.20 Z" fill="#111"/>
<text x="446.70" y="63.00" font-size="6.8" text-anchor="start" fill="#222" >Transcription start site</text>
<line x1="432.70" y1="72.80" x2="432.70" y2="84.50" stroke="#111" stroke-width="1.2" />
<text x="431.4" y="89.70" font-size="5" fill="#222">+</text>
<text x="434.20" y="90.30" font-size="6.6" text-anchor="start" fill="#222" >98</text>
<text x="449.60" y="87.30" font-size="6.8" text-anchor="start" fill="#222" >Firefly luciferase</text>
<text x="403.40" y="86.20" font-size="6.8" text-anchor="middle" fill="#222"><tspan font-style="italic">IL-15RB</tspan>-pro</text>
<text x="386.50" y="107.40" font-size="6.7" text-anchor="end" fill="#222" >-1659</text>
<line x1="385.50" y1="110.50" x2="385.50" y2="117.50" stroke="#111" stroke-width="1.1" />
<line x1="379.00" y1="120.90" x2="385.50" y2="120.90" stroke="#111" stroke-width="1.1" />
<text x="372.90" y="121.90" font-size="6.7" text-anchor="start" fill="#222" >5'</text>
<rect x="385.50" y="117.65" width="43.10" height="6.50" fill="#ee0000" stroke="none" stroke-width="0" />
<rect x="428.60" y="117.65" width="4.30" height="6.50" fill="#6a1470" stroke="none" stroke-width="0" />
<rect x="432.90" y="117.65" width="70.30" height="6.50" fill="#99cc00" stroke="none" stroke-width="0" />
<rect x="386.15" y="117.65" width="117.05" height="6.50" fill="none" stroke="#111" stroke-width="1.3" />
<line x1="503.80" y1="120.90" x2="510.70" y2="120.90" stroke="#111" stroke-width="1.1" />
<text x="512.60" y="121.90" font-size="6.7" text-anchor="start" fill="#222" >3'</text>
<line x1="428.60" y1="110.50" x2="428.60" y2="117.50" stroke="#111" stroke-width="1.1" />
<text x="429.20" y="107.40" font-size="6.7" text-anchor="middle" fill="#222" >0</text>
<line x1="433.00" y1="104.90" x2="440.20" y2="104.90" stroke="#111" stroke-width="1.0" />
<path d="M439.6,102.90 L443.6,104.90 L439.6,106.90 Z" fill="#111"/>
<text x="446.70" y="107.70" font-size="6.8" text-anchor="start" fill="#222" >Transcription start site</text>
<line x1="432.70" y1="117.50" x2="432.70" y2="129.20" stroke="#111" stroke-width="1.2" />
<text x="431.4" y="134.40" font-size="5" fill="#222">+</text>
<text x="434.20" y="135.00" font-size="6.6" text-anchor="start" fill="#222" >51</text>
<text x="449.60" y="132.00" font-size="6.8" text-anchor="start" fill="#222" >Firefly luciferase</text>
<text x="406.95" y="130.90" font-size="6.8" text-anchor="middle" fill="#222"><tspan font-style="italic">T-BET</tspan>-pro</text>
<line x1="181.20" y1="228.70" x2="181.20" y2="294.40" stroke="#222" stroke-width="1" />
<line x1="181.20" y1="294.40" x2="298.40" y2="294.40" stroke="#222" stroke-width="1" />
<line x1="179.20" y1="294.40" x2="181.20" y2="294.40" stroke="#222" stroke-width="0.9" />
<text x="177.60" y="296.80" font-size="6.6" text-anchor="end" fill="#222" >0</text>
<line x1="179.20" y1="278.10" x2="181.20" y2="278.10" stroke="#222" stroke-width="0.9" />
<text x="177.60" y="280.50" font-size="6.6" text-anchor="end" fill="#222" >2</text>
<line x1="179.20" y1="261.80" x2="181.20" y2="261.80" stroke="#222" stroke-width="0.9" />
<text x="177.60" y="264.20" font-size="6.6" text-anchor="end" fill="#222" >4</text>
<line x1="179.20" y1="245.50" x2="181.20" y2="245.50" stroke="#222" stroke-width="0.9" />
<text x="177.60" y="247.90" font-size="6.6" text-anchor="end" fill="#222" >6</text>
<line x1="179.20" y1="229.20" x2="181.20" y2="229.20" stroke="#222" stroke-width="0.9" />
<text x="177.60" y="231.60" font-size="6.6" text-anchor="end" fill="#222" >8</text>
<line x1="221.00" y1="294.40" x2="221.00" y2="296.60" stroke="#222" stroke-width="0.9" />
<line x1="259.70" y1="294.40" x2="259.70" y2="296.60" stroke="#222" stroke-width="0.9" />
<line x1="298.40" y1="294.40" x2="298.40" y2="296.60" stroke="#222" stroke-width="0.9" />
<text x="0" y="0" font-size="6.6" text-anchor="middle" fill="#222" transform="translate(170.3,263.5) rotate(-90)">Relative luciferase activity</text>
<rect x="190.20" y="285.60" width="11.20" height="8.80" fill="#9999ff" stroke="#333" stroke-width="0.7" />
<rect x="201.40" y="279.57" width="11.20" height="14.83" fill="#9a2c60" stroke="#333" stroke-width="0.7" />
<line x1="206.20" y1="279.57" x2="206.20" y2="277.20" stroke="#222" stroke-width="0.9" />
<line x1="204.00" y1="277.20" x2="208.40" y2="277.20" stroke="#222" stroke-width="0.9" />
<text x="206.20" y="275.60" font-size="8" text-anchor="middle" fill="#111" font-weight="bold" >**</text>
<rect x="229.00" y="285.60" width="11.20" height="8.80" fill="#9999ff" stroke="#333" stroke-width="0.7" />
<rect x="240.20" y="279.57" width="11.20" height="14.83" fill="#9a2c60" stroke="#333" stroke-width="0.7" />
<line x1="245.00" y1="279.57" x2="245.00" y2="277.20" stroke="#222" stroke-width="0.9" />
<line x1="242.80" y1="277.20" x2="247.20" y2="277.20" stroke="#222" stroke-width="0.9" />
<text x="245.00" y="275.60" font-size="8" text-anchor="middle" fill="#111" font-weight="bold" >*</text>
<rect x="268.40" y="285.60" width="11.20" height="8.80" fill="#9999ff" stroke="#333" stroke-width="0.7" />
<rect x="279.60" y="246.72" width="11.20" height="47.68" fill="#9a2c60" stroke="#333" stroke-width="0.7" />
<line x1="284.40" y1="246.72" x2="284.40" y2="235.72" stroke="#222" stroke-width="0.9" />
<line x1="282.20" y1="235.72" x2="286.60" y2="235.72" stroke="#222" stroke-width="0.9" />
<text x="284.40" y="234.12" font-size="8" text-anchor="middle" fill="#111" font-weight="bold" >**</text>
<text x="0" y="0" font-size="6.8" text-anchor="end" fill="#222" transform="translate(206.3,301.7) rotate(-45)">IL-15RB-pro-Luc</text>
<text x="0" y="0" font-size="6.8" text-anchor="end" fill="#222" transform="translate(245.0,301.7) rotate(-45)">ETS1-pro-Luc</text>
<text x="0" y="0" font-size="6.8" text-anchor="end" fill="#222" transform="translate(283.8,301.7) rotate(-45)">T-BET-pro-Luc</text>
<rect x="301.80" y="259.20" width="5.60" height="5.60" fill="#9999ff" stroke="#333" stroke-width="0.7" />
<text x="310.00" y="264.40" font-size="6.8" text-anchor="start" fill="#222" >Control</text>
<rect x="301.80" y="268.20" width="5.60" height="5.60" fill="#9a2c60" stroke="#333" stroke-width="0.7" />
<text x="310.00" y="273.40" font-size="6.8" text-anchor="start" fill="#222" >TOX2-WT</text>
<rect x="372.40" y="229.70" width="115.00" height="15.10" fill="#9d9d9d" stroke="#555" stroke-width="1.0" />
<text x="368.50" y="240.40" font-size="6.8" text-anchor="end" fill="#222" >TOX2</text>
<text x="491.60" y="240.40" font-size="6.8" text-anchor="start" fill="#222" >50 kDa</text>
<rect x="395.0" y="235.8" width="13.8" height="4.2" rx="2" fill="#1a1a1a" opacity="1.0"/>
<rect x="411.8" y="235.8" width="13.2" height="4.2" rx="2" fill="#1a1a1a" opacity="1.0"/>
<path d="M428.4,238.2 C428.6,236.4 430.5,235.8 432,236.2 C433.6,235.2 435.5,235.0 437.5,235.4 C439.5,235.2 441.5,235.0 443.2,235.6 C445.2,236.2 445.3,238.8 444.2,239.3 C442.5,239.6 441,238.6 439.5,238.6 C437.5,238.8 435.5,238.4 433.5,239.2 C431.8,240.0 428.6,240.2 428.4,238.2 Z" fill="#1e1e1e"/>
<ellipse cx="434.2" cy="237.6" rx="1.1" ry="0.7" fill="#777"/>
<text x="0" y="0" font-size="6.6" fill="#222" transform="translate(384.0,226.3) rotate(-45)">No DNA</text>
<text x="0" y="0" font-size="6.6" fill="#222" transform="translate(402.6,226.3) rotate(-45)">T-BET-pro F1</text>
<text x="0" y="0" font-size="6.6" fill="#222" transform="translate(421.0,226.3) rotate(-45)">T-BET-pro F2</text>
<text x="0" y="0" font-size="6.6" fill="#222" transform="translate(439.0,226.3) rotate(-45)">T-BET-pro F3</text>
<text x="0" y="0" font-size="6.6" fill="#222" transform="translate(455.0,226.3) rotate(-45)">IL-15RB-pro</text>
<text x="0" y="0" font-size="6.6" fill="#222" transform="translate(475.6,226.3) rotate(-45)">ULBP2-pro</text>
<text x="437.20" y="256.80" font-size="4.6" text-anchor="middle" fill="#333" style="stroke-width:0">Transcription start site</text>
<line x1="388.60" y1="271.60" x2="469.00" y2="271.60" stroke="#222" stroke-width="1.5" />
<line x1="392.40" y1="271.60" x2="392.40" y2="265.60" stroke="#222" stroke-width="0.9" />
<text x="391.20" y="264.60" font-size="6.5" text-anchor="start" fill="#222" >-1659</text>
<line x1="458.40" y1="271.60" x2="458.40" y2="266.00" stroke="#222" stroke-width="0.9" />
<text x="458.40" y="264.60" font-size="6.5" text-anchor="middle" fill="#222" >0</text>
<line x1="469.00" y1="272.30" x2="469.00" y2="264.80" stroke="#222" stroke-width="0.9" />
<text x="471.20" y="264.60" font-size="6.5" text-anchor="middle" fill="#222" >+51</text>
<circle cx="388.6" cy="271.6" r="4.3" fill="#f59a32" stroke="#222" stroke-width="1.1"/>
<text x="478.7" y="274.6" font-size="6.8" fill="#222"><tspan font-style="italic">T-BET</tspan>-pro F1</text>
<line x1="411.60" y1="287.60" x2="469.00" y2="287.60" stroke="#222" stroke-width="1.5" />
<line x1="415.40" y1="287.60" x2="415.40" y2="281.60" stroke="#222" stroke-width="0.9" />
<text x="416.60" y="280.60" font-size="6.5" text-anchor="start" fill="#222" >-964</text>
<line x1="458.40" y1="287.60" x2="458.40" y2="282.00" stroke="#222" stroke-width="0.9" />
<text x="458.40" y="280.60" font-size="6.5" text-anchor="middle" fill="#222" >0</text>
<line x1="469.00" y1="288.30" x2="469.00" y2="280.80" stroke="#222" stroke-width="0.9" />
<text x="471.20" y="280.60" font-size="6.5" text-anchor="middle" fill="#222" >+51</text>
<circle cx="411.6" cy="287.6" r="4.3" fill="#f59a32" stroke="#222" stroke-width="1.1"/>
<text x="478.7" y="290.6" font-size="6.8" fill="#222"><tspan font-style="italic">T-BET</tspan>-pro F2</text>
<line x1="436.20" y1="303.60" x2="469.00" y2="303.60" stroke="#222" stroke-width="1.5" />
<line x1="440.00" y1="303.60" x2="440.00" y2="297.60" stroke="#222" stroke-width="0.9" />
<text x="438.80" y="296.60" font-size="6.5" text-anchor="start" fill="#222" >-489</text>
<line x1="458.40" y1="303.60" x2="458.40" y2="298.00" stroke="#222" stroke-width="0.9" />
<text x="458.40" y="296.60" font-size="6.5" text-anchor="middle" fill="#222" >0</text>
<line x1="469.00" y1="304.30" x2="469.00" y2="296.80" stroke="#222" stroke-width="0.9" />
<text x="471.20" y="296.60" font-size="6.5" text-anchor="middle" fill="#222" >+51</text>
<circle cx="436.2" cy="303.6" r="4.3" fill="#f59a32" stroke="#222" stroke-width="1.1"/>
<text x="478.7" y="306.6" font-size="6.8" fill="#222"><tspan font-style="italic">T-BET</tspan>-pro F3</text>
<line x1="381.60" y1="320.00" x2="469.00" y2="320.00" stroke="#222" stroke-width="1.5" />
<line x1="385.40" y1="320.00" x2="385.40" y2="314.00" stroke="#222" stroke-width="0.9" />
<text x="384.20" y="313.00" font-size="6.5" text-anchor="start" fill="#222" >-1702</text>
<line x1="452.00" y1="320.00" x2="452.00" y2="314.40" stroke="#222" stroke-width="0.9" />
<text x="452.00" y="313.00" font-size="6.5" text-anchor="middle" fill="#222" >0</text>
<line x1="469.00" y1="320.70" x2="469.00" y2="313.20" stroke="#222" stroke-width="0.9" />
<text x="471.20" y="313.00" font-size="6.5" text-anchor="middle" fill="#222" >+98</text>
<circle cx="381.6" cy="320.0" r="4.3" fill="#f59a32" stroke="#222" stroke-width="1.1"/>
<text x="478.7" y="323.0" font-size="6.8" fill="#222"><tspan font-style="italic">IL-15RB</tspan>-pro</text>
<line x1="351.00" y1="336.60" x2="469.00" y2="336.60" stroke="#222" stroke-width="1.5" />
<line x1="354.80" y1="336.60" x2="354.80" y2="330.60" stroke="#222" stroke-width="0.9" />
<text x="353.60" y="329.60" font-size="6.5" text-anchor="start" fill="#222" >-2415</text>
<line x1="469.00" y1="337.30" x2="469.00" y2="329.80" stroke="#222" stroke-width="0.9" />
<text x="469.00" y="329.60" font-size="6.5" text-anchor="middle" fill="#222" >0</text>
<circle cx="351.0" cy="336.6" r="4.3" fill="#f59a32" stroke="#222" stroke-width="1.1"/>
<text x="478.7" y="339.6" font-size="6.8" fill="#222"><tspan font-style="italic">ULBP2</tspan>-pro</text>
<text x="382.00" y="274.00" font-size="6.8" text-anchor="end" fill="#222" >Biotin</text>
</svg>
</body></html>
